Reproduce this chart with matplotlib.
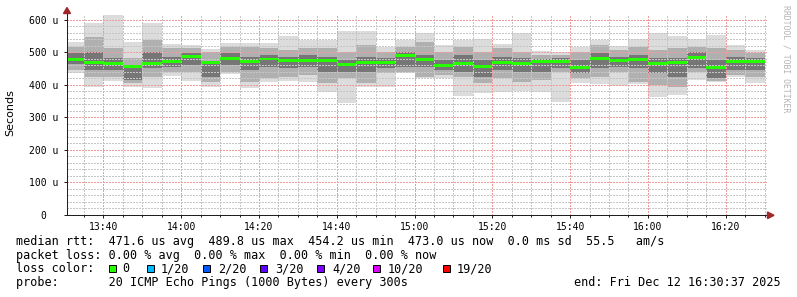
import matplotlib
matplotlib.use("Agg")
import matplotlib.pyplot as plt
import matplotlib.dates as mdates
from matplotlib.patches import Rectangle, Polygon
import numpy as np
import pandas as pd

# 5 minute steps, 20 pings each (values in microseconds)
starts = pd.date_range("2025-12-12 13:30", periods=36, freq="5min")

median = [477, 469, 467, 456, 466, 471, 487, 469, 482, 472, 480, 474,
          474, 476, 462, 469, 469, 490, 477, 461, 467, 458, 470, 466,
          471, 473, 454, 481, 475, 477, 466, 470, 484, 455, 473, 473]

outer_hi = [533, 592, 616, 533, 592, 526, 522, 510, 530, 528, 530, 552,
            537, 537, 566, 566, 518, 538, 559, 523, 537, 542, 526, 559,
            505, 500, 518, 537, 521, 540, 559, 551, 542, 554, 523, 508]
outer_lo = [437, 393, 413, 395, 390, 428, 413, 393, 434, 390, 410, 413,
            410, 379, 346, 393, 395, 438, 421, 421, 367, 374, 377, 382,
            379, 349, 407, 403, 397, 403, 364, 369, 415, 410, 425, 407]

mid_hi = [518, 549, 513, 482, 538, 513, 513, 503, 518, 518, 513, 508,
          515, 513, 503, 523, 503, 518, 533, 503, 518, 503, 513, 503,
          492, 492, 503, 523, 508, 518, 508, 513, 518, 513, 508, 497]
mid_lo = [446, 426, 426, 405, 426, 441, 441, 410, 441, 410, 420, 426,
          431, 405, 420, 405, 436, 441, 426, 431, 426, 405, 420, 410,
          415, 441, 420, 426, 441, 410, 400, 395, 441, 412, 431, 426]

core_hi = [497, 503, 482, 462, 503, 487, 497, 474, 497, 487, 492, 487,
           492, 487, 477, 487, 482, 503, 492, 477, 492, 477, 487, 482,
           480, 482, 477, 497, 487, 492, 482, 482, 503, 477, 487, 482]
core_lo = [464, 446, 446, 415, 451, 456, 462, 426, 462, 446, 456, 451,
           456, 441, 441, 441, 451, 456, 456, 446, 441, 426, 446, 441,
           441, 451, 436, 451, 456, 451, 436, 426, 451, 420, 446, 446]

yticks = [0, 100, 200, 300, 400, 500, 600]
ylabels = ["0  ", "100 u", "200 u", "300 u", "400 u", "500 u", "600 u"]

loss_labels = ["0", "1/20", "2/20", "3/20", "4/20", "10/20", "19/20"]
loss_colors = ["#26ff00", "#00b8ff", "#0059ff", "#5e00ff", "#7e00ff", "#dd00ff", "#ff0000"]

W, H = 797, 297
mono = "DejaVu Sans Mono"

fig = plt.figure(figsize=(W / 100, H / 100), dpi=100)
ax = fig.add_axes([67 / W, (H - 215) / H, 700 / W, (215 - 13.8) / H])

x = mdates.date2num(starts)
step = 5 / 1440

for lo, hi, col in [(outer_lo, outer_hi, "#dcdcdc"),
                    (mid_lo, mid_hi, "#b0b0b0"),
                    (core_lo, core_hi, "#767676")]:
    lo = np.array(lo)
    hi = np.array(hi)
    ax.bar(x, hi - lo, bottom=lo, width=step, align="edge",
           color=col, linewidth=0, zorder=1)

med = np.array(median)
ax.bar(x, 9, bottom=med - 4.5, width=step, align="edge",
       color=loss_colors[0], linewidth=0, zorder=4)

ax.set_xlim(mdates.date2num(pd.Timestamp("2025-12-12 13:30:37")),
            mdates.date2num(pd.Timestamp("2025-12-12 16:30:37")))
ax.set_ylim(0, 619)

ax.xaxis.set_major_locator(mdates.MinuteLocator(byminute=[0, 20, 40]))
ax.xaxis.set_minor_locator(mdates.MinuteLocator(byminute=range(0, 60, 5)))
ax.xaxis.set_major_formatter(mdates.DateFormatter("%H:%M"))
ax.set_yticks(yticks)
ax.set_yticklabels(ylabels)
ax.set_yticks(np.arange(0, 620, 20), minor=True)

ax.set_axisbelow(False)
ax.grid(which="minor", color="#c6c6c6", linestyle=(0, (1.4, 1.4)),
        linewidth=0.72, antialiased=False)
ax.grid(which="major", color="#ee9c9c", linestyle=(0, (1.4, 1.4)),
        linewidth=0.72, antialiased=False)

for s in ["top", "right"]:
    ax.spines[s].set_visible(False)
for s in ["left", "bottom"]:
    ax.spines[s].set_color("#1f1f1f")
    ax.spines[s].set_linewidth(0.72)
    ax.spines[s].set_zorder(5)

ax.tick_params(which="major", length=2.5, width=0.72, color="#1f1f1f")
ax.tick_params(which="minor", length=1.5, width=0.72, color="#1f1f1f")
ax.tick_params(axis="y", which="minor", length=0)
ax.tick_params(axis="x", pad=2.5)
ax.tick_params(axis="y", pad=3.5)
for lab in ax.get_xticklabels() + ax.get_yticklabels():
    lab.set_fontfamily(mono)
    lab.set_fontsize(7)

# arrows
arrow = "#a02828"
def px(points):
    return [(a / W, 1 - b / H) for a, b in points]
fig.add_artist(Polygon(px([(67, 7.5), (63.5, 13.5), (70.5, 13.5)]),
                       closed=True, color=arrow, transform=fig.transFigure))
fig.add_artist(Polygon(px([(774, 215.3), (767.5, 212), (767.5, 218.6)]),
                       closed=True, color=arrow, transform=fig.transFigure))

fig.text(10 / W, 1 - 113 / H, "Seconds", rotation=90, fontsize=8,
         ha="center", va="center")
fig.text(786 / W, 1 - 59 / H, "RRDTOOL / TOBI OETIKER", rotation=270,
         fontsize=5.9, family=mono, color="#b4b4b4", ha="center", va="center")

fs = 8.5
def line(xp, yp, s, **kw):
    fig.text(xp / W, 1 - yp / H, s, fontsize=fs, family=mono, va="center", **kw)

line(16, 241, "median rtt:  471.6 us avg  489.8 us max  454.2 us min  473.0 us now  0.0 ms sd  55.5   am/s")
line(16, 255, "packet loss: 0.00 % avg  0.00 % max  0.00 % min  0.00 % now")
line(16, 268.5, "loss color:")
box_x = [109, 146.7, 203, 260, 317, 373, 443]
text_x = [122, 160.5, 218, 275, 332, 388, 457]
for bx, tx, lab, col in zip(box_x, text_x, loss_labels, loss_colors):
    fig.add_artist(Rectangle((bx / W, 1 - 271.8 / H), 7 / W, 7 / H,
                             facecolor=col, edgecolor="black", linewidth=0.7,
                             transform=fig.transFigure))
    line(tx, 268.5, lab)
line(16, 282.5, "probe:       20 ICMP Echo Pings (1000 Bytes) every 300s")
line(781, 282.5, "end: Fri Dec 12 16:30:37 2025", ha="right")

fig.savefig("out.png", dpi=100)
